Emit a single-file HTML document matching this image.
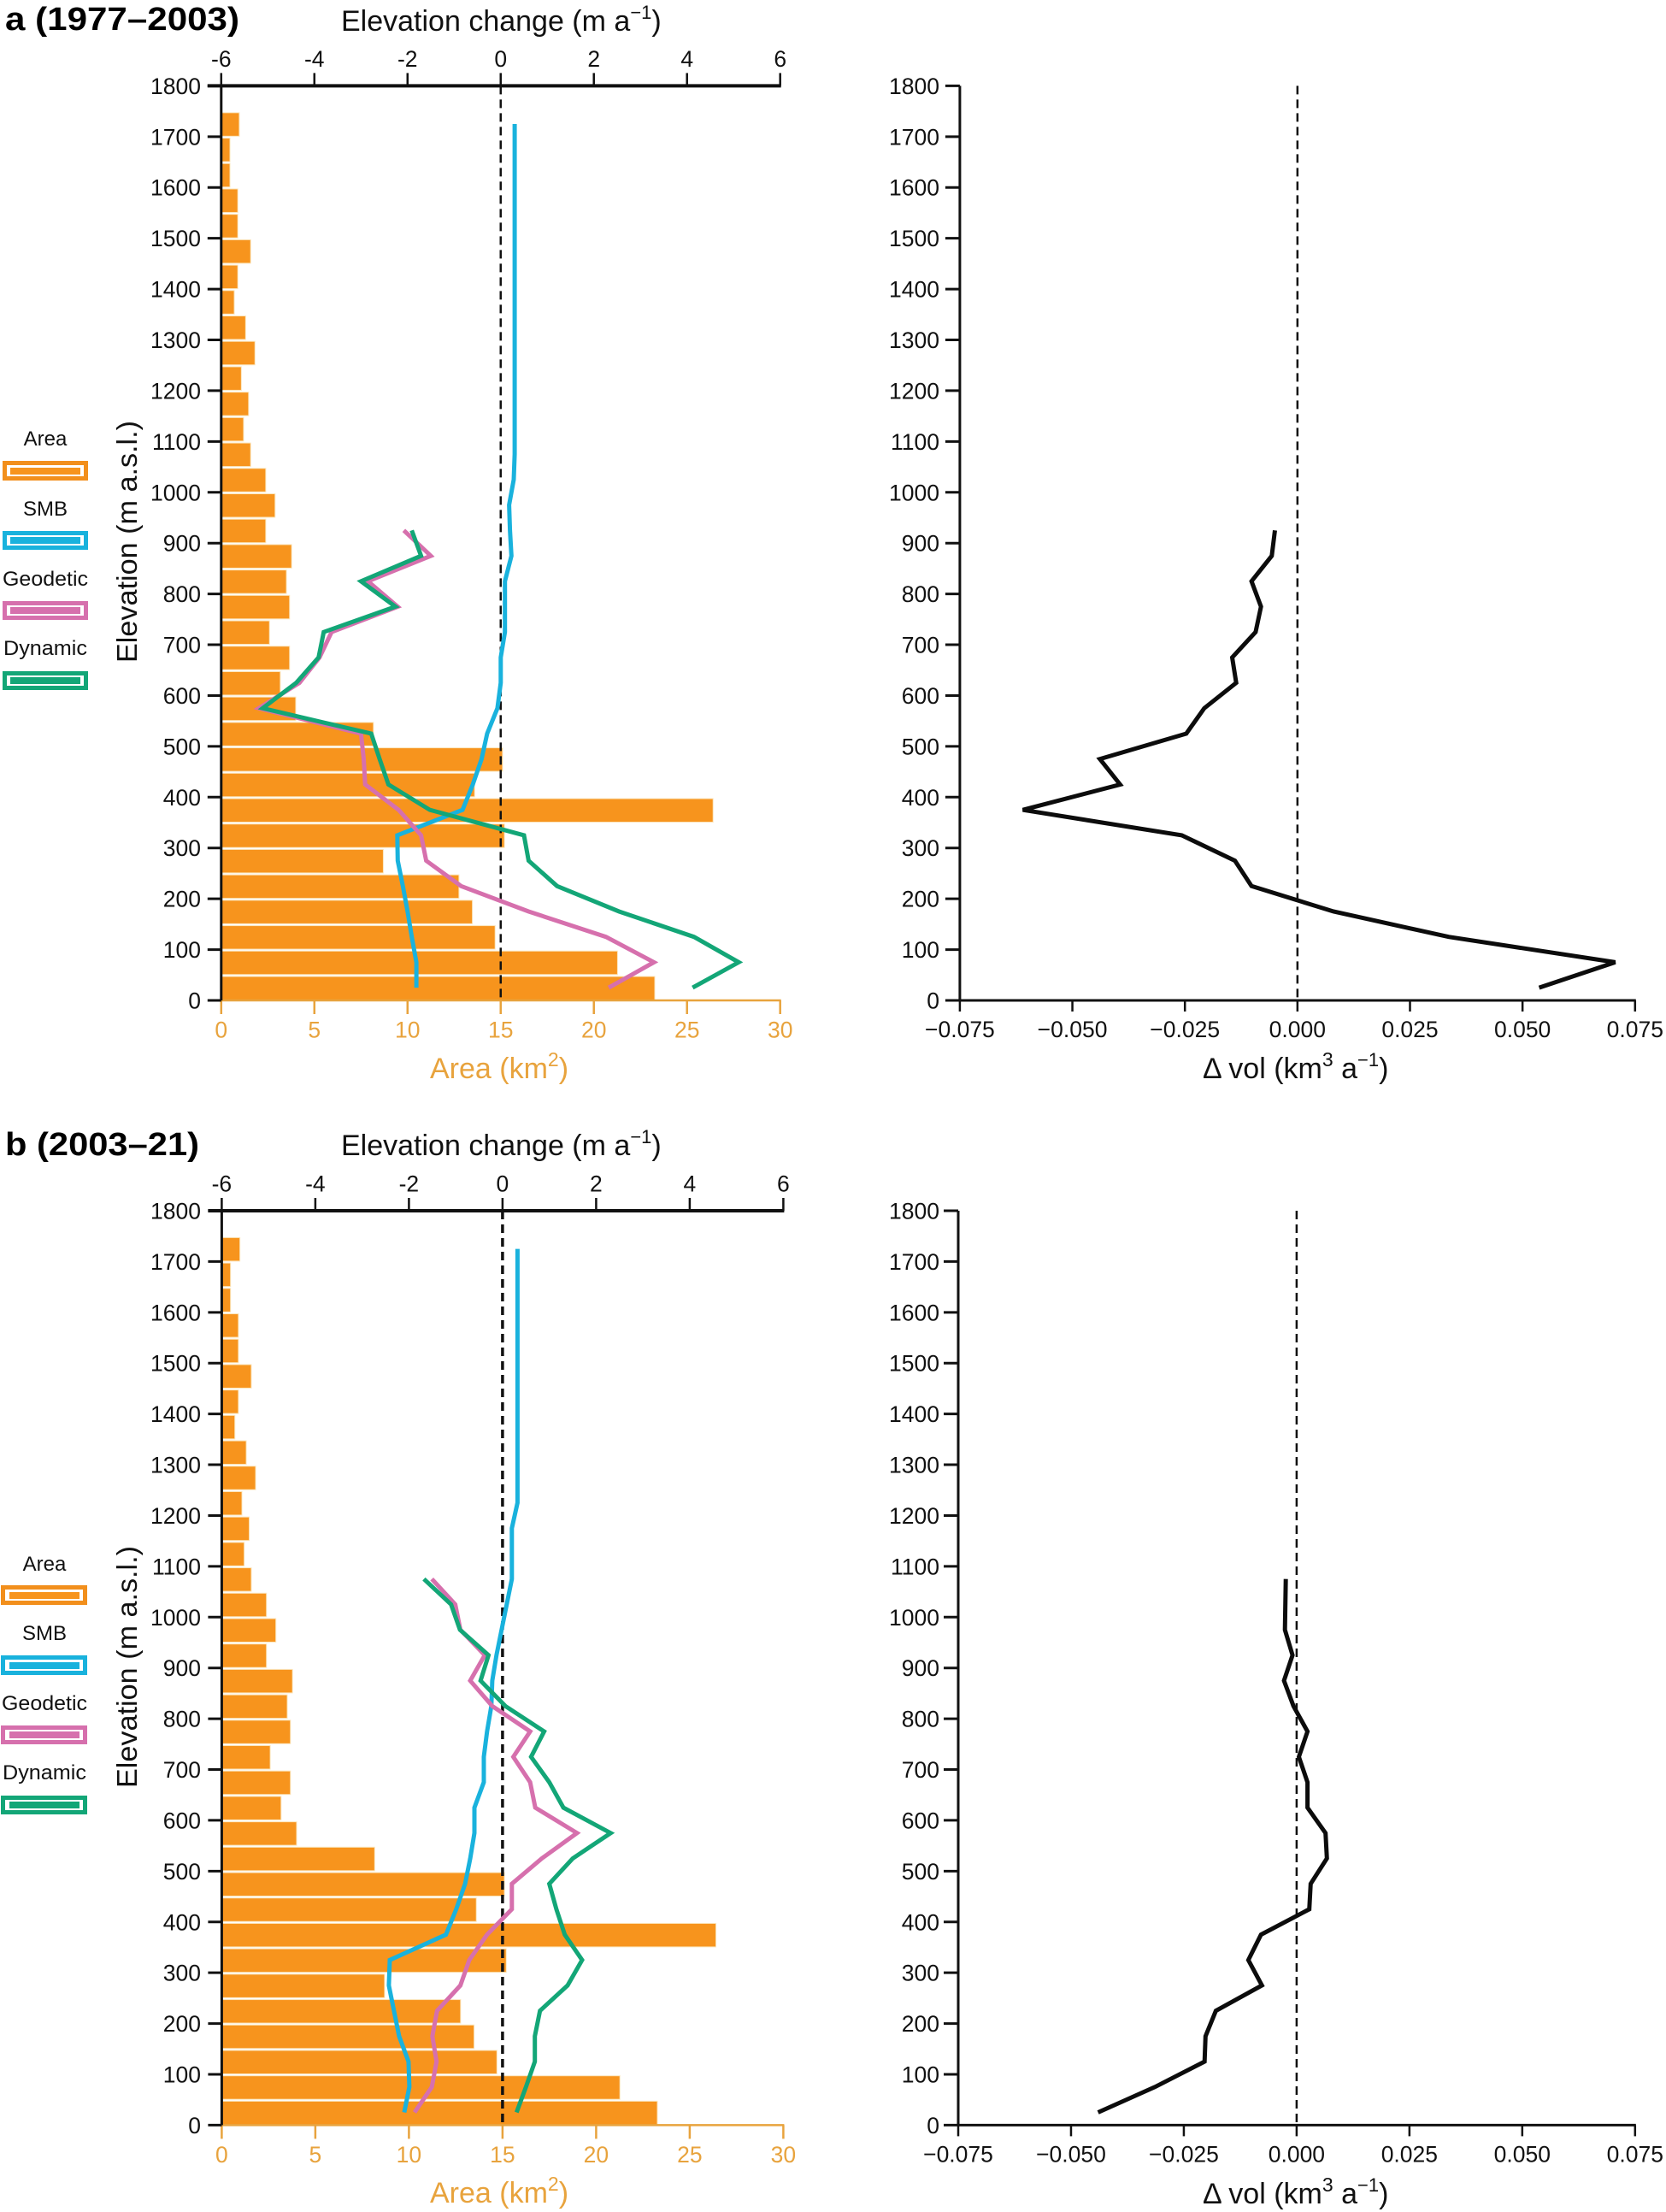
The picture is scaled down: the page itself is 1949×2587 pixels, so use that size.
<!DOCTYPE html>
<html lang="en">
<head>
<meta charset="utf-8">
<title>Elevation change and volume change profiles</title>
<style>
html,body{margin:0;padding:0;background:#fff;}
svg{display:block;font-family:"Liberation Sans",Arial,sans-serif;}
</style>
</head>
<body>
<svg id="figure" xmlns="http://www.w3.org/2000/svg" width="1949" height="2587" viewBox="0 0 1949 2587">
  <rect x="0" y="0" width="1949" height="2587" fill="#ffffff"/>

  <text x="6" y="35" font-size="38" font-weight="700" textLength="274" lengthAdjust="spacingAndGlyphs">a (1977–2003)</text>
  <text x="399" y="36" font-size="34" fill="#111">Elevation change (m a<tspan dy="-14" font-size="22">−1</tspan><tspan dy="14">)</tspan></text>
  <text transform="translate(160,775) rotate(-90)" font-size="33" fill="#111" textLength="283" lengthAdjust="spacingAndGlyphs">Elevation (m a.s.l.)</text>
  <text x="503" y="1261" font-size="34" fill="#e8a33d">Area (km<tspan dy="-14" font-size="23">2</tspan><tspan dy="14">)</tspan></text>
  <text x="1407" y="1261" font-size="34" fill="#111">Δ vol (km<tspan dy="-14" font-size="23">3</tspan><tspan dy="14"> a</tspan><tspan dy="-14" font-size="22">−1</tspan><tspan dy="14">)</tspan></text>

  <text x="6" y="1351" font-size="38" font-weight="700" textLength="227" lengthAdjust="spacingAndGlyphs">b (2003–21)</text>
  <text x="399" y="1351" font-size="34" fill="#111">Elevation change (m a<tspan dy="-14" font-size="22">−1</tspan><tspan dy="14">)</tspan></text>
  <text transform="translate(160,2091) rotate(-90)" font-size="33" fill="#111" textLength="283" lengthAdjust="spacingAndGlyphs">Elevation (m a.s.l.)</text>
  <text x="503" y="2576" font-size="34" fill="#e8a33d">Area (km<tspan dy="-14" font-size="23">2</tspan><tspan dy="14">)</tspan></text>
  <text x="1407" y="2577" font-size="34" fill="#111">Δ vol (km<tspan dy="-14" font-size="23">3</tspan><tspan dy="14"> a</tspan><tspan dy="-14" font-size="22">−1</tspan><tspan dy="14">)</tspan></text>

  <g font-size="24" fill="#111" text-anchor="middle">
    <g>
      <text x="53" y="521">Area</text>
      <rect x="3" y="539" width="100" height="23" fill="#f28f1c"/><rect x="8" y="544" width="90" height="13" fill="#fff"/><rect x="12" y="547" width="82" height="8" fill="#f7941d"/>
    </g>
    <g>
      <text x="53" y="603">SMB</text>
      <rect x="3" y="621" width="100" height="22" fill="#19b2dd"/><rect x="8" y="626" width="90" height="12" fill="#fff"/><rect x="12" y="628" width="82" height="8" fill="#19b2dd"/>
    </g>
    <g>
      <text x="53" y="685" textLength="100" lengthAdjust="spacingAndGlyphs">Geodetic</text>
      <rect x="3" y="703" width="100" height="22" fill="#d670ad"/><rect x="8" y="708" width="90" height="12" fill="#fff"/><rect x="12" y="710" width="82" height="8" fill="#d670ad"/>
    </g>
    <g>
      <text x="53" y="766" textLength="98" lengthAdjust="spacingAndGlyphs">Dynamic</text>
      <rect x="3" y="785" width="100" height="22" fill="#13a677"/><rect x="8" y="790" width="90" height="12" fill="#fff"/><rect x="12" y="792" width="82" height="8" fill="#13a677"/>
    </g>
  </g>

  <g font-size="24" fill="#111" text-anchor="middle">
    <g>
      <text x="52" y="1837">Area</text>
      <rect x="1" y="1854" width="101" height="23" fill="#f28f1c"/><rect x="6" y="1859" width="91" height="13" fill="#fff"/><rect x="11" y="1862" width="82" height="8" fill="#f7941d"/>
    </g>
    <g>
      <text x="52" y="1918">SMB</text>
      <rect x="1" y="1936" width="101" height="23" fill="#19b2dd"/><rect x="6" y="1941" width="91" height="13" fill="#fff"/><rect x="11" y="1944" width="82" height="8" fill="#19b2dd"/>
    </g>
    <g>
      <text x="52" y="2000" textLength="100" lengthAdjust="spacingAndGlyphs">Geodetic</text>
      <rect x="1" y="2018" width="101" height="22" fill="#d670ad"/><rect x="6" y="2023" width="91" height="12" fill="#fff"/><rect x="11" y="2025" width="82" height="8" fill="#d670ad"/>
    </g>
    <g>
      <text x="52" y="2081" textLength="98" lengthAdjust="spacingAndGlyphs">Dynamic</text>
      <rect x="1" y="2100" width="101" height="22" fill="#13a677"/><rect x="6" y="2105" width="91" height="12" fill="#fff"/><rect x="11" y="2107" width="82" height="8" fill="#13a677"/>
    </g>
  </g>
</svg>

<script>
var elevationBins = [25,75,125,175,225,275,325,375,425,475,525,575,625,675,725,775,825,875,925,975,1025,1075,1125,1175,1225,1275,1325,1375,1425,1475,1525,1575,1625,1675,1725];
var areaKm2 = [23.27,21.27,14.7,13.48,12.76,8.7,15.2,26.4,13.6,15.1,8.17,4.0,3.17,3.67,2.59,3.67,3.5,3.78,2.39,2.89,2.39,1.58,1.2,1.47,1.08,1.81,1.31,0.7,0.89,1.58,0.89,0.89,0.47,0.47,0.97];

var smbA = [-1.81,-1.81,-1.91,-2.0,-2.1,-2.21,-2.22,-0.82,-0.6,-0.41,-0.29,-0.07,0,0,0.09,0.09,0.09,0.23,0.2,0.18,0.28,0.3,0.3,0.3,0.3,0.3,0.3,0.3,0.3,0.3,0.3,0.3,0.3,0.3,0.3];
var geodeticA = [2.32,3.29,2.26,0.6,-0.85,-1.6,-1.71,-2.19,-2.91,-2.94,-3.0,-5.19,-4.32,-3.89,-3.63,-2.21,-2.85,-1.5,-2.08];
var dynamicA = [4.12,5.11,4.15,2.54,1.21,0.6,0.5,-1.52,-2.41,-2.6,-2.78,-5.11,-4.39,-3.91,-3.8,-2.26,-3.0,-1.71,-1.91];
var deltaVolA = [0.0537,0.0706,0.0336,0.008,-0.0102,-0.0139,-0.0257,-0.061,-0.0394,-0.0439,-0.0247,-0.0207,-0.0136,-0.0145,-0.0093,-0.0081,-0.0102,-0.0057,-0.005];

var smbB = [-2.10,-1.99,-2.01,-2.21,-2.32,-2.43,-2.41,-1.21,-0.99,-0.80,-0.69,-0.60,-0.60,-0.40,-0.40,-0.33,-0.24,-0.22,-0.13,-0.02,0.09,0.20,0.20,0.20,0.32,0.32,0.32,0.32,0.32,0.32,0.32,0.32,0.32,0.32,0.32];
var geodeticB = [-1.88,-1.51,-1.41,-1.50,-1.40,-0.90,-0.71,-0.33,0.20,0.20,0.84,1.59,0.70,0.59,0.23,0.59,-0.22,-0.69,-0.38,-0.90,-1.01,-1.51];
var dynamicB = [0.30,0.50,0.69,0.69,0.80,1.39,1.70,1.33,1.15,1.00,1.50,2.31,1.30,1.00,0.61,0.89,0.06,-0.47,-0.30,-0.91,-1.10,-1.68];
var deltaVolB = [-0.044,-0.0314,-0.0204,-0.0202,-0.0179,-0.0077,-0.0107,-0.0079,0.0028,0.0031,0.0067,0.0064,0.0024,0.0024,0.0005,0.0024,-0.0007,-0.0028,-0.0009,-0.0026,-0.0025,-0.0024];

var elevationTicks = [0,100,200,300,400,500,600,700,800,900,1000,1100,1200,1300,1400,1500,1600,1700,1800];
var changeTicks = [-6,-4,-2,0,2,4,6];
var areaTicks = [0,5,10,15,20,25,30];
var volTicks = [-0.075,-0.05,-0.025,0,0.025,0.05,0.075];
var volTickLabels = ['−0.075','−0.050','−0.025','0.000','0.025','0.050','0.075'];

var SVGNS = 'http://www.w3.org/2000/svg';
var root = document.getElementById('figure');
var ORANGE = '#e8a33d', BAR = '#f7941d', BLUE = '#19b2dd', PINK = '#d670ad', GREEN = '#13a677';

function add(parent, tag) {
  var el = document.createElementNS(SVGNS, tag);
  parent.appendChild(el);
  return el;
}
function drawLine(parent, name, x1, y1, x2, y2, color, width, dash) {
  var el = add(parent, 'line');
  
  
  el.setAttribute('x1', x1);
  el.setAttribute('y1', y1);
  el.setAttribute('x2', x2);
  el.setAttribute('y2', y2);
  el.setAttribute('stroke', color);
  el.setAttribute('stroke-width', width);
  if (dash) el.setAttribute('stroke-dasharray', dash);
  return el;
}
function drawText(parent, name, str, x, y, anchor, color) {
  var el = add(parent, 'text');
  
  
  el.setAttribute('x', x);
  el.setAttribute('y', y);
  el.setAttribute('text-anchor', anchor);
  el.setAttribute('font-size', '26.5');
  el.setAttribute('fill', color);
  el.textContent = str;
  return el;
}
function drawSeries(parent, name, values, xFn, yFn, color, width) {
  var pts = [];
  for (var i = 0; i < values.length; i++) {
    pts.push(xFn(values[i]).toFixed(1) + ',' + yFn(elevationBins[i]).toFixed(1));
  }
  var el = add(parent, 'polyline');
  
  
  el.setAttribute('points', pts.join(' '));
  el.setAttribute('fill', 'none');
  el.setAttribute('stroke', color);
  el.setAttribute('stroke-width', width);
  el.setAttribute('stroke-linejoin', 'miter');
  return el;
}
function drawLeftPanel(prefix, g, smb, geodetic, dynamic, zeroWidth) {
  var group = add(root, 'g');
  
  
  var yFn = function (e) { return g.y0 + (g.yTop - g.y0) * e / 1800; };
  var xArea = function (a) { return g.x0 + (g.x1 - g.x0) * a / 30; };
  var xChange = function (c) { return g.x0 + (g.x1 - g.x0) * (c + 6) / 12; };
  var i;
  for (i = 0; i < areaKm2.length; i++) {
    var bar = add(group, 'rect');
    
    
    bar.setAttribute('x', g.x0);
    bar.setAttribute('y', yFn(elevationBins[i] - 25) - 28);
    bar.setAttribute('width', xArea(areaKm2[i]) - g.x0);
    bar.setAttribute('height', 27.5);
    bar.setAttribute('fill', BAR);
    bar.setAttribute('stroke', '#fbe6bd');
    bar.setAttribute('stroke-width', 1);
  }
  drawLine(group, 'zero-reference-line', xChange(0), g.yTop, xChange(0), g.y0, '#111', zeroWidth, '10 6');
  drawSeries(group, 'smb-line', smb, xChange, yFn, BLUE, 5);
  drawSeries(group, 'geodetic-line', geodetic, xChange, yFn, PINK, 5);
  drawSeries(group, 'dynamic-line', dynamic, xChange, yFn, GREEN, 5);
  drawLine(group, 'area-axis-line', g.x0, g.y0, g.x1 + 1, g.y0, ORANGE, 2.5);
  for (i = 0; i < areaTicks.length; i++) {
    drawLine(group, 'area-tick', xArea(areaTicks[i]), g.y0, xArea(areaTicks[i]), g.y0 + 16, ORANGE, 2.5);
    drawText(group, 'area-tick-label', String(areaTicks[i]), xArea(areaTicks[i]), g.y0 + 43.5, 'middle', ORANGE);
  }
  drawLine(group, 'elevation-change-axis-line', g.x0 - 16, g.yTop, g.x1 + 1, g.yTop, '#111', 4);
  for (i = 0; i < changeTicks.length; i++) {
    drawLine(group, 'elevation-change-tick', xChange(changeTicks[i]), g.yTop, xChange(changeTicks[i]), g.yTop - 15, '#111', 2.5);
    drawText(group, 'elevation-change-tick-label', String(changeTicks[i]), xChange(changeTicks[i]), g.yTop - 22.5, 'middle', '#111');
  }
  drawLine(group, 'elevation-axis-line', g.x0, g.yTop, g.x0, g.y0, '#111', 3);
  for (i = 0; i < elevationTicks.length; i++) {
    drawLine(group, 'elevation-tick', g.x0 - 16, yFn(elevationTicks[i]), g.x0, yFn(elevationTicks[i]), '#111', 3);
    drawText(group, 'elevation-tick-label', String(elevationTicks[i]), 235, yFn(elevationTicks[i]) + 9.5, 'end', '#111');
  }
}
function drawRightPanel(prefix, g, deltaVol) {
  var group = add(root, 'g');
  
  
  var yFn = function (e) { return g.y0 + (g.yTop - g.y0) * e / 1800; };
  var xVol = function (v) { return g.x0 + (g.x1 - g.x0) * (v + 0.075) / 0.15; };
  var i;
  drawLine(group, 'zero-reference-line', xVol(0), g.yTop, xVol(0), g.y0, '#111', 2.5, '10 6');
  drawSeries(group, 'delta-volume-line', deltaVol, xVol, yFn, '#0c0c0c', 5);
  drawLine(group, 'volume-axis-line', g.x0 - 1, g.y0, g.x1 + 1, g.y0, '#111', 3);
  for (i = 0; i < volTicks.length; i++) {
    drawLine(group, 'volume-tick', xVol(volTicks[i]), g.y0, xVol(volTicks[i]), g.y0 + 13, '#111', 2.5);
    drawText(group, 'volume-tick-label', volTickLabels[i], xVol(volTicks[i]), g.y0 + 43, 'middle', '#111');
  }
  drawLine(group, 'elevation-axis-line', g.x0, g.yTop, g.x0, g.y0, '#111', 3);
  for (i = 0; i < elevationTicks.length; i++) {
    drawLine(group, 'elevation-tick', g.x0 - 17, yFn(elevationTicks[i]), g.x0, yFn(elevationTicks[i]), '#111', 3);
    drawText(group, 'elevation-tick-label', String(elevationTicks[i]), 1099, yFn(elevationTicks[i]) + 9.5, 'end', '#111');
  }
}
drawLeftPanel('panel-a', {x0: 258.8, x1: 912.7, yTop: 100.4, y0: 1170}, smbA, geodeticA, dynamicA, 2.5);
drawRightPanel('panel-a', {x0: 1122.9, x1: 1912.8, yTop: 100.4, y0: 1170}, deltaVolA);
drawLeftPanel('panel-b', {x0: 259.4, x1: 916.4, yTop: 1416, y0: 2485.4}, smbB, geodeticB, dynamicB, 3.5);
drawRightPanel('panel-b', {x0: 1121, x1: 1912.8, yTop: 1416, y0: 2485.4}, deltaVolB);
</script>
</body>
</html>
